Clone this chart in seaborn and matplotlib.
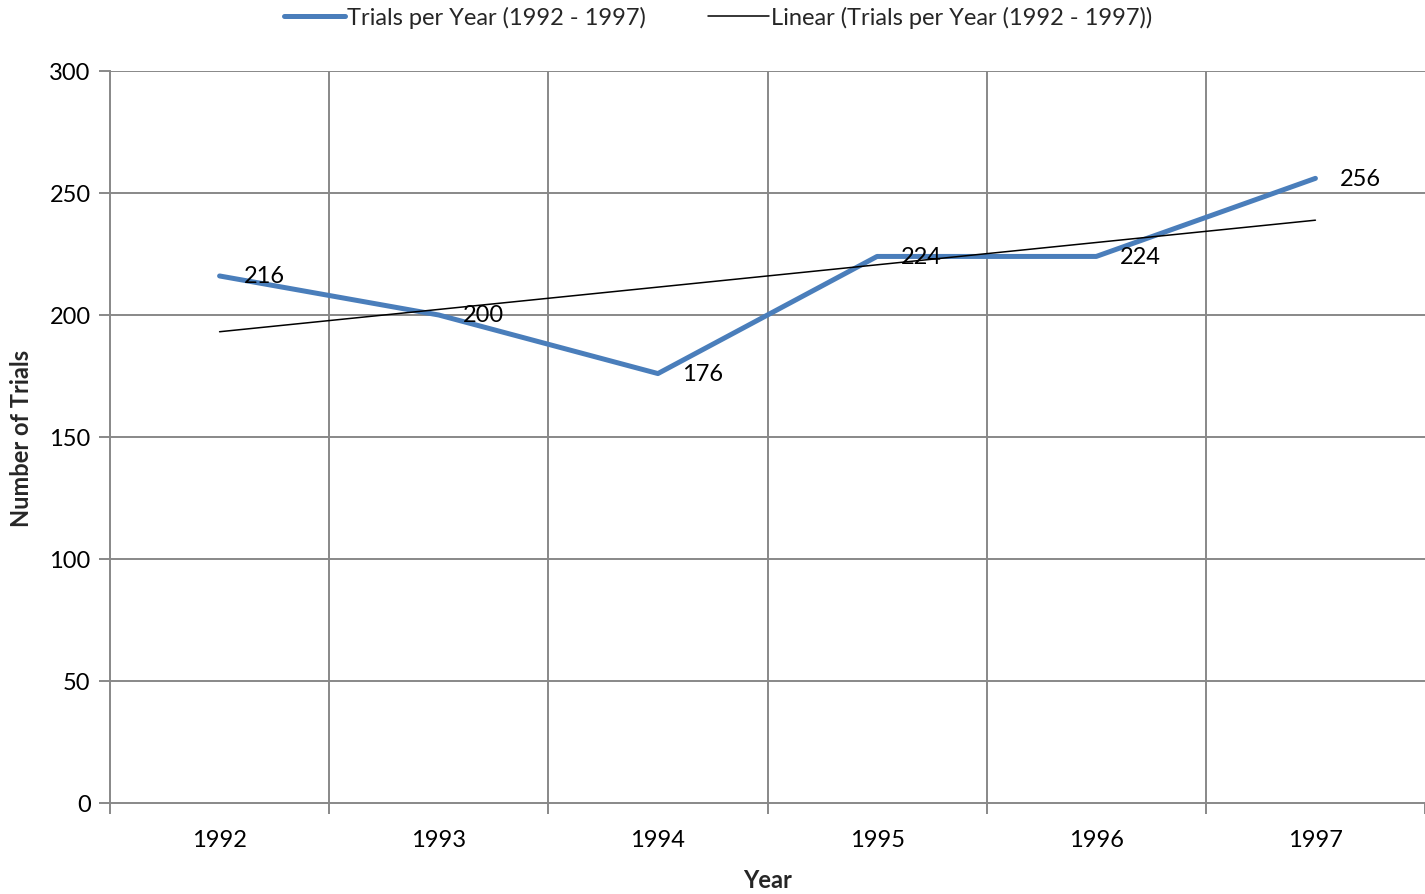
import numpy as np
import pandas as pd
import seaborn as sns
import matplotlib
matplotlib.use("Agg")
import matplotlib.pyplot as plt

# dados
anos = ["1992", "1993", "1994", "1995", "1996", "1997"]
ensaios = [216, 200, 176, 224, 224, 256]
rotulo_serie = "Trials per Year (1992 - 1997)"
rotulo_tendencia = "Linear (Trials per Year (1992 - 1997))"

sns.set_theme(style="white")
plt.rcParams["font.family"] = ["Lato", "DejaVu Sans"]

cinza = "#888888"
azul = "#4A7EBB"
fs = 17

df = pd.DataFrame({"pos": np.arange(len(anos)), "ano": anos, "ensaios": ensaios})

# linha de tendencia linear (minimos quadrados)
coef = np.polyfit(df["pos"] + 1, df["ensaios"], 1)
df["tendencia"] = np.polyval(coef, df["pos"] + 1)

fig = plt.figure(figsize=(14.25, 8.95), dpi=100)
ax = fig.add_axes([110 / 1425, 1 - 804 / 895, 1 - 110 / 1425, (804 - 72) / 895])

sns.lineplot(data=df, x="pos", y="ensaios", color=azul, linewidth=3.6,
             label=rotulo_serie, ax=ax)
sns.lineplot(data=df, x="pos", y="tendencia", color="black", linewidth=1.1,
             label=rotulo_tendencia, ax=ax)

for x, y in zip(df["pos"], df["ensaios"]):
    ax.text(x + 0.11, y, str(y), fontsize=fs, va="center", ha="left", color="black")

ax.set_xlim(-0.5, len(anos) - 0.5)
ax.set_ylim(0, 300)
ax.set_yticks(range(0, 301, 50))
ax.set_xticks(df["pos"])
ax.set_xticklabels(anos)
ax.set_xticks(np.arange(-0.5, len(anos)), minor=True)

ax.tick_params(axis="x", which="major", length=0, pad=19, labelsize=fs, labelcolor="black")
ax.tick_params(axis="x", which="minor", bottom=True, length=8, width=1.4, color=cinza,
               direction="out")
ax.tick_params(axis="y", which="major", length=8, width=1.4, color=cinza, pad=6,
               labelsize=fs, labelcolor="black", left=True)

ax.grid(False)
for yv in range(50, 301, 50):
    ax.axhline(yv, color=cinza, linewidth=1.4, zorder=0)
for xv in np.arange(0.5, len(anos) - 0.5):
    ax.axvline(xv, color=cinza, linewidth=1.4, zorder=0)

for lado in ["top", "right"]:
    ax.spines[lado].set_visible(False)
for lado in ["left", "bottom"]:
    ax.spines[lado].set_color(cinza)
    ax.spines[lado].set_linewidth(1.4)

ax.set_xlabel("Year", fontsize=fs, fontweight="bold", labelpad=13)
ax.set_ylabel("Number of Trials", fontsize=fs, fontweight="bold", labelpad=12)

ax.get_legend().remove()
handles, labels = ax.get_legend_handles_labels()
fig.legend(handles, labels, loc="center", bbox_to_anchor=(0.504, 1 - 18 / 895),
           ncol=2, frameon=False, fontsize=fs, handlelength=2.6,
           handletextpad=0.1, columnspacing=2.6)

fig.savefig("out.png", dpi=100, facecolor="white")
